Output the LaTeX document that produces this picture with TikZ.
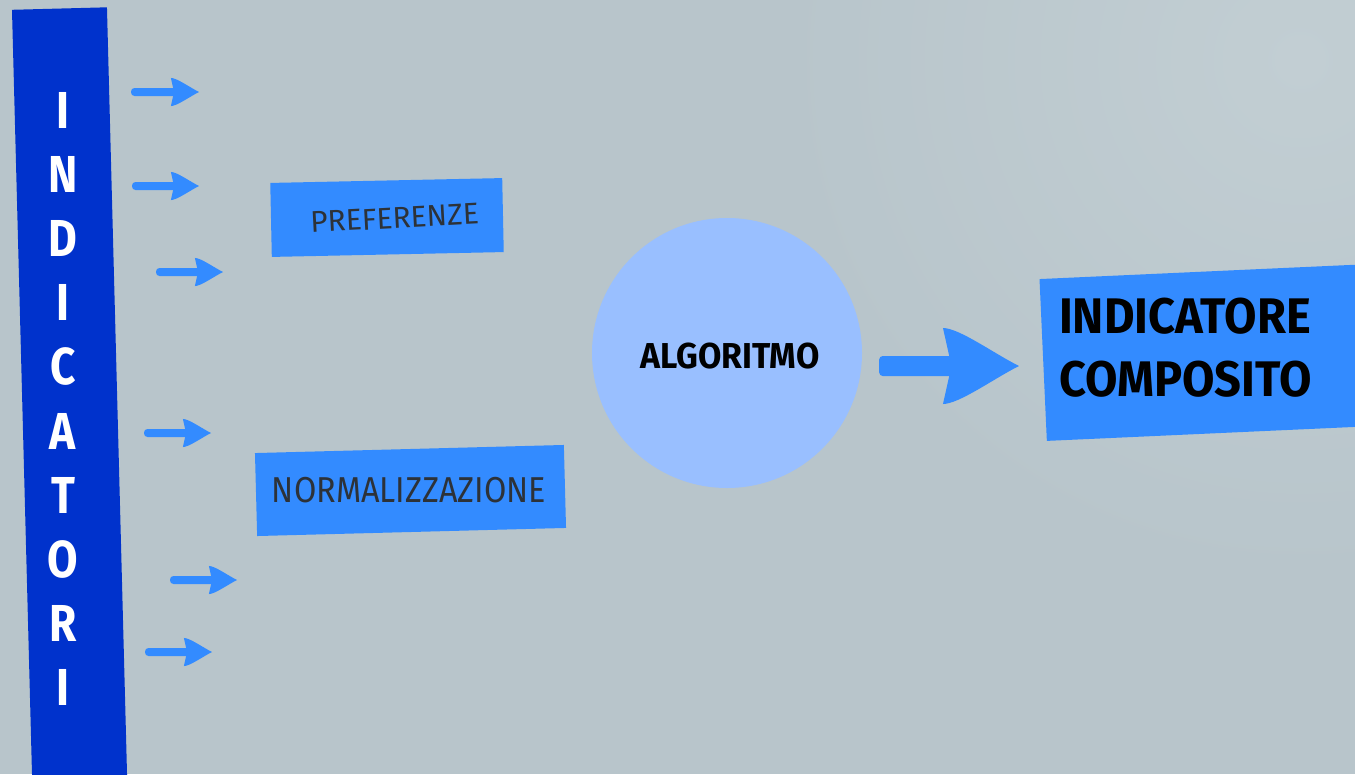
\documentclass[tikz,border=0pt]{standalone}
\usepackage{fontspec}
\setmainfont{Fira Sans}
\newfontfamily\fsA{Fira Sans}[FakeStretch=0.85]
\newfontfamily\fsB{Fira Sans}[FakeStretch=0.90]
\newfontfamily\fsC{Fira Sans}[FakeStretch=0.94]
\definecolor{bg}{RGB}{184,197,203}
\definecolor{bglight}{RGB}{194,206,211}
\definecolor{bardark}{RGB}{0,50,204}
\definecolor{midblue}{RGB}{51,139,255}
\definecolor{paleblue}{RGB}{153,191,255}
\definecolor{inkgray}{RGB}{45,50,56}
\tikzset{
  barbox/.style={fill=bardark, inner sep=0pt, minimum width=95pt, minimum height=820pt},
  barletter/.style={text=white, font=\fsA\bfseries\fontsize{52}{52}\selectfont, inner sep=0pt},
  stepbox/.style={fill=midblue, inner sep=0pt},
  steptext/.style={text=inkgray, inner sep=0pt},
  boldtext/.style={text=black, inner sep=0pt},
}
% arrow with a leaf-shaped head: #1 start, #2 tip, #3 half shaft width, #4 head scale
\newcommand\leafarrow[4]{%
  \fill[midblue, rounded corners=3.5pt]
    ([yshift=#3]#1) rectangle ([xshift=-60*#4 pt, yshift=-#3]#2);
  \begin{scope}[shift={(#2)}, scale=#4]
    \fill[midblue] (0,0) .. controls (-25,-12.5) and (-60,-38) .. (-76,-38)
      -- (-67.5,0) -- (-76,38) .. controls (-60,38) and (-25,12.5) .. (0,0) -- cycle;
  \end{scope}}
\begin{document}
\begin{tikzpicture}[x=1pt,y=-1pt]
\useasboundingbox (0,0) rectangle (1355,774);
\clip (0,0) rectangle (1355,774);
% background
\fill[bg] (0,0) rectangle (1355,774);
\shade[inner color=bglight, outer color=bg] (1300,60) circle[radius=520pt];

% vertical label bar
\node[barbox, rotate=1.5] (bar) at (70.2,418.4) {};
\foreach \ch [count=\i] in {I,N,D,I,C,A,T,O,R,I}
  \node[barletter] (l\i) at (63,{110+64.2*(\i-1)}) {\ch};

% input arrows
\foreach \n/\xs/\xe/\yy in {1/131/199/92, 2/132/199/186, 3/156/223/272,
                            4/144/211/433, 5/170/237/580, 6/145/212/652} {
  \coordinate (s\n) at (\xs,\yy);
  \coordinate (e\n) at (\xe,\yy);
  \leafarrow{s\n}{e\n}{4pt}{0.37}
}

% processing steps
\node[stepbox, rotate=1.2, minimum width=232pt, minimum height=74pt] (pref) at (387,217.5) {};
\node[steptext, rotate=3, font=\fontsize{30}{30}\selectfont] (preftext) at (394.5,218) {PREFERENZE};
\node[stepbox, rotate=1.5, minimum width=309pt, minimum height=83pt] (norm) at (410.5,490.5) {};
\node[steptext, font=\fsB\fontsize{36}{36}\selectfont] (normtext) at (409,490.5) {NORMALIZZAZIONE};

% algorithm
\node[circle, fill=paleblue, minimum size=270pt, inner sep=0pt] (alg) at (727,353) {};
\node[boldtext, font=\fsC\bfseries\fontsize{36}{36}\selectfont] (algtext) at (730,356) {ALGORITMO};

% result
\node[fill=midblue, rotate=2.6, inner sep=0pt, minimum width=330pt,
      minimum height=162pt] (ic) at (1208,352.5) {};
\node[boldtext, anchor=north west, align=left,
      font=\fsC\bfseries\fontsize{50}{63}\selectfont] (ictext) at (1059,298)
      {INDICATORE\\COMPOSITO};

% output arrow
\coordinate (bigs) at ([xshift=17pt, yshift=-13pt]alg.east);
\coordinate (bigt) at ([xshift=-24pt]bigs -| ic.west);
\leafarrow{bigs}{bigt}{10pt}{1}
\end{tikzpicture}
\end{document}
